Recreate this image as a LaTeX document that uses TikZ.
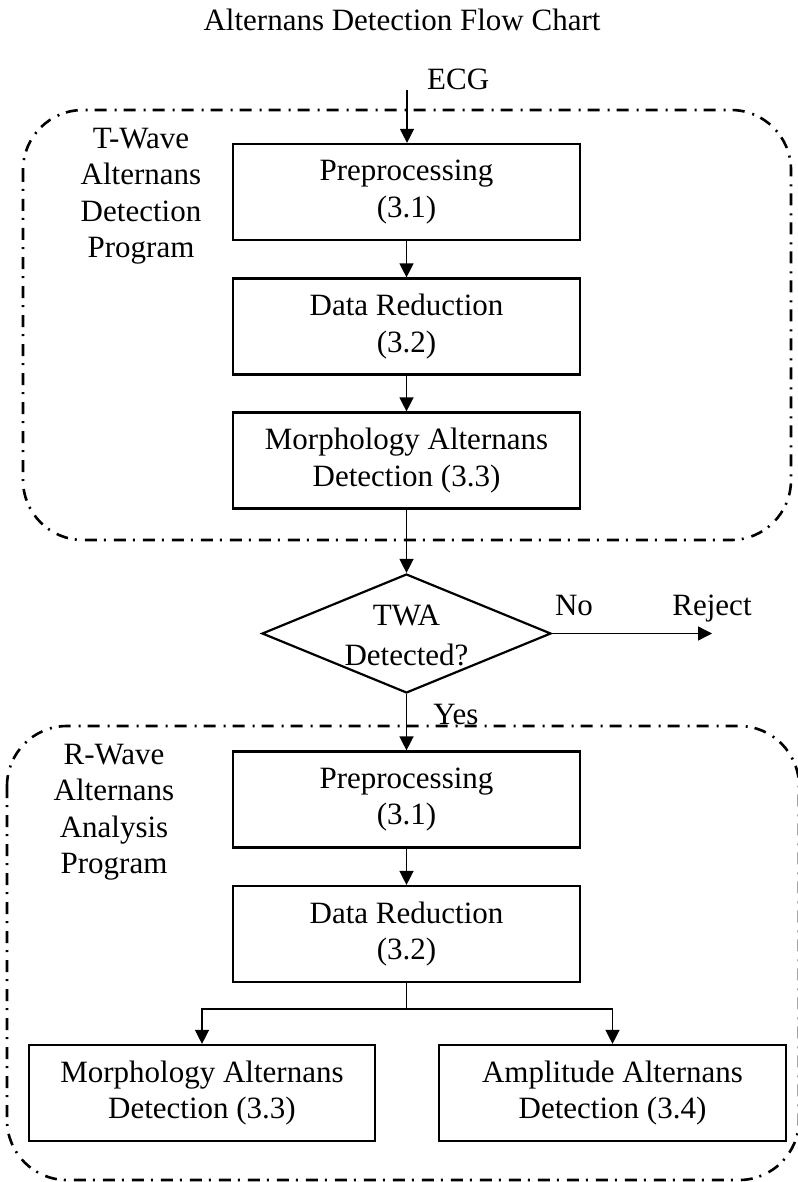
\documentclass[tikz,border=0pt]{standalone}
\usepackage{fontspec}
\setmainfont{Liberation Serif}
\usetikzlibrary{arrows.meta,shapes.geometric}
\begin{document}
\begin{tikzpicture}[x=1pt,y=-1pt,
  every node/.style={font=\fontsize{31}{36.5}\selectfont},
  procbox/.style={draw,line width=2.2pt,rectangle,minimum width=347pt,minimum height=96pt,inner sep=0pt,align=center},
  lbl/.style={align=center,inner sep=0pt},
  arr/.style={line width=1.4pt,-{Triangle[length=14pt,width=14pt]}},
  region/.style={line width=2.6pt,rounded corners=60pt,dash pattern=on 12pt off 7pt on 2pt off 8pt}]
\useasboundingbox (0,0) rectangle (797,1182);
% title
\node[anchor=base] (title) at (402,31) {Alternans Detection Flow Chart};
% regions
\draw[region] (23,110) rectangle (791,540);
\draw[region] (7,726) rectangle (799,1180);
% side labels
\node[lbl] (tlab) at (141,196) {T-Wave\\Alternans\\Detection\\Program};
\node[lbl] (rlab) at (114,812) {R-Wave\\Alternans\\Analysis\\Program};
% boxes
\node[procbox] (b1) at (406.5,192) {Preprocessing\\(3.1)};
\node[procbox] (b2) at (406.5,326.5) {Data Reduction\\(3.2)};
\node[procbox] (b3) at (406.5,460.5) {Morphology Alternans\\Detection (3.3)};
\node[draw,diamond,line width=2.2pt,minimum width=289pt,minimum height=119pt,inner sep=0pt] (dec) at (406.5,633.5) {};
\node[lbl,font=\fontsize{31}{40}\selectfont] (dectext) at (406.5,635) {TWA\\Detected?};
\node[procbox] (b4) at (406.5,799.5) {Preprocessing\\(3.1)};
\node[procbox] (b5) at (406.5,934) {Data Reduction\\(3.2)};
\node[procbox,minimum width=346pt] (b6) at (202,1093) {Morphology Alternans\\Detection (3.3)};
\node[procbox] (b7) at (612.5,1093) {Amplitude Alternans\\Detection (3.4)};
% labels
\node[anchor=base west,inner sep=0pt] (ecgl) at (427,90) {ECG};
\node[anchor=base,inner sep=0pt] (nol) at (574,615) {No};
\node[anchor=base,inner sep=0pt] (rejl) at (712,615) {Reject};
\node[anchor=base,inner sep=0pt] (yesl) at (456,724) {Yes};
\coordinate (ecg) at (407,90);
\coordinate (rej) at (712,633.5);
% connectors
\draw[arr] (ecg) -- (ecg |- b1.north);
\draw[arr] (b1) -- (b2);
\draw[arr] (b2) -- (b3);
\draw[arr] (b3) -- (dec.north);
\draw[arr] (dec.east) -- (rej);
\draw[arr] (dec.south) -- (b4.north);
\draw[arr] (b4) -- (b5);
\draw[arr] (b5.south) -- ++(0,26) -| (b6.north);
\draw[arr] (b5.south) -- ++(0,26) -| (b7.north);
\end{tikzpicture}
\end{document}
